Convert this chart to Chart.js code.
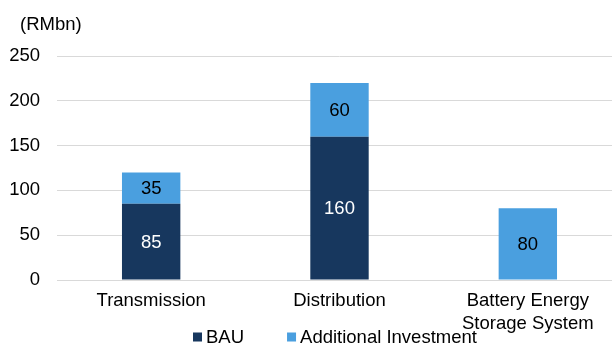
<!DOCTYPE html>
<html lang="en">
<head>
<meta charset="UTF-8">
<title>Grid investment (RMbn)</title>
<script src="https://cdn.jsdelivr.net/npm/chart.js"></script>
<style>
  html, body { margin: 0; padding: 0; background: #fff; overflow: hidden; }
  /* plot runs slightly past the right edge of the window */
  #wrap { width: 622px; height: 347px; position: relative; }
</style>
</head>
<body>
<div id="wrap"><canvas id="investChart"></canvas></div>
<script>
// categories and values (RMbn)
const categories = ['Transmission', 'Distribution', ['Battery Energy', 'Storage System']];
const bauValues = [85, 160, 0];
const additionalValues = [35, 60, 80];
const yTicks = [0, 50, 100, 150, 200, 250];

const NAVY = '#17375E';
const BLUE = '#4A9FDF';
const FONT = 'Liberation Sans, Arial, sans-serif';
const FS = 18.5;

// value labels inside each bar segment
const barLabels = {
    id: 'barLabels',
    afterDatasetsDraw(chart) {
        const ctx = chart.ctx;
        ctx.save();
        ctx.font = FS + 'px ' + FONT;
        ctx.textAlign = 'center';
        ctx.textBaseline = 'middle';
        chart.data.datasets.forEach((ds, i) => {
            const meta = chart.getDatasetMeta(i);
            meta.data.forEach((bar, j) => {
                const v = ds.data[j];
                if (!v) return;
                ctx.fillStyle = ds.labelColor;
                ctx.fillText(String(v), bar.x, (bar.y + bar.base) / 2 + 1);
            });
        });
        ctx.restore();
    }
};

// unit caption and bottom legend
const extras = {
    id: 'extras',
    afterDraw(chart) {
        const ctx = chart.ctx;
        ctx.save();
        ctx.font = FS + 'px ' + FONT;
        ctx.fillStyle = '#000';
        ctx.textBaseline = 'middle';
        ctx.textAlign = 'left';
        ctx.fillText('(RMbn)', 20, 25);

        const box = 9, gapText = 4, gapItem = 43;
        const items = chart.data.datasets.map(ds => ({ label: ds.label, color: ds.backgroundColor }));
        const widths = items.map(it => box + gapText + ctx.measureText(it.label).width);
        let x = 193;
        const y = 337;
        items.forEach((it, i) => {
            ctx.fillStyle = it.color;
            ctx.fillRect(x, y - box / 2, box, box);
            ctx.fillStyle = '#000';
            ctx.fillText(it.label, x + box + gapText, y + 1);
            x += widths[i] + gapItem;
        });
        ctx.restore();
    }
};

new Chart(document.getElementById('investChart'), {
    type: 'bar',
    data: {
        labels: categories,
        datasets: [
            { label: 'BAU', data: bauValues, backgroundColor: NAVY, labelColor: '#fff',
              barPercentage: 0.31, categoryPercentage: 1 },
            { label: 'Additional Investment', data: additionalValues, backgroundColor: BLUE, labelColor: '#000',
              barPercentage: 0.31, categoryPercentage: 1 }
        ]
    },
    options: {
        responsive: true,
        maintainAspectRatio: false,
        animation: false,
        layout: { padding: { top: 56, right: 0, left: 0, bottom: 0 } },
        plugins: {
            legend: { display: false },
            tooltip: { enabled: false }
        },
        scales: {
            x: {
                stacked: true,
                grid: { display: false },
                border: { color: '#D9D9D9', width: 1 },
                ticks: { color: '#000', font: { family: FONT, size: FS, lineHeight: 1.25 }, padding: 1, maxRotation: 0 },
                afterFit(scale) { scale.height = 67; }
            },
            y: {
                stacked: true,
                min: 0,
                max: 250,
                afterBuildTicks(scale) { scale.ticks = yTicks.map(v => ({ value: v })); },
                grid: { color: '#D9D9D9', lineWidth: 1, drawTicks: false },
                border: { display: false },
                ticks: { color: '#000', font: { family: FONT, size: FS }, padding: 17 },
                afterFit(scale) { scale.width = 57; }
            }
        }
    },
    plugins: [barLabels, extras]
});
</script>
</body>
</html>
